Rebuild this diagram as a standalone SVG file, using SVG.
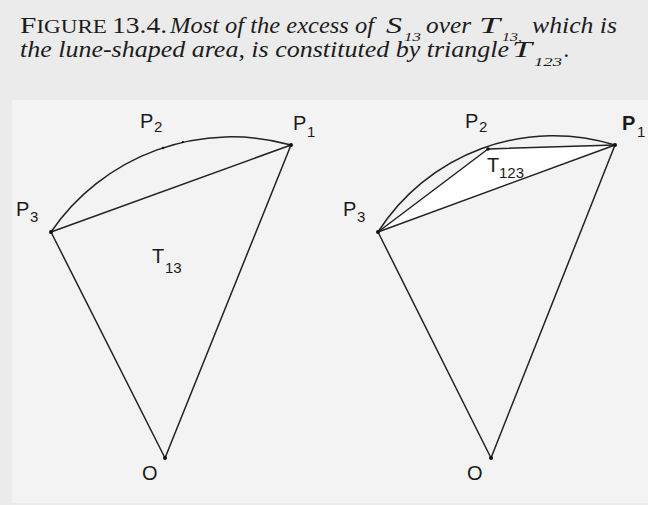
<svg xmlns="http://www.w3.org/2000/svg" width="648" height="505" viewBox="0 0 648 505">
<style>
.cap{font-family:"Liberation Serif",serif;fill:#1c1c1c}
.it{font-style:italic}
.lbl{font-family:"Liberation Sans",Arial,sans-serif;fill:#1a1a1a;font-size:20px}
.sub{font-family:"Liberation Sans",Arial,sans-serif;fill:#1a1a1a;font-size:15px}
.ln{fill:none;stroke:#222;stroke-width:1.5;stroke-linecap:round;stroke-linejoin:round}
.dot{fill:#111}
</style>
<rect x="0" y="0" width="648" height="505" fill="#ebebeb"/>
<rect x="12" y="100" width="636" height="403" fill="#f3f3f3"/>
<g id="caption">
<text class="cap" x="20" y="33" font-size="23" textLength="87" lengthAdjust="spacingAndGlyphs">F<tspan font-size="18">IGURE</tspan></text>
<text class="cap" x="112" y="33" font-size="23" textLength="55" lengthAdjust="spacingAndGlyphs">13.4.</text>
<text class="cap it" x="170" y="33" font-size="23" textLength="204" lengthAdjust="spacingAndGlyphs">Most of the excess of</text>
<text class="cap it" x="386" y="33" font-size="23" textLength="16" lengthAdjust="spacingAndGlyphs">S</text>
<text class="cap it" x="404" y="41" font-size="13" textLength="17" lengthAdjust="spacingAndGlyphs">13</text>
<text class="cap it" x="426" y="33" font-size="23" textLength="45" lengthAdjust="spacingAndGlyphs">over</text>
<text class="cap it" x="479" y="33" font-size="23" textLength="21" lengthAdjust="spacingAndGlyphs">T</text>
<text class="cap it" x="502" y="41" font-size="13" textLength="20" lengthAdjust="spacingAndGlyphs">13,</text>
<text class="cap it" x="532" y="33" font-size="23" textLength="85" lengthAdjust="spacingAndGlyphs">which is</text>
<text class="cap it" x="20" y="57" font-size="23" textLength="489" lengthAdjust="spacingAndGlyphs">the lune-shaped area, is constituted by triangle</text>
<text class="cap it" x="512" y="57" font-size="23" textLength="20" lengthAdjust="spacingAndGlyphs">T</text>
<text class="cap it" x="534" y="66" font-size="13" textLength="28" lengthAdjust="spacingAndGlyphs">123</text>
<text class="cap it" x="564" y="57" font-size="23">.</text>
</g>
<g id="left-figure">
<g id="connectors-left">
<path class="ln" d="M51,232 A219,219 0 0 1 291,145"/>
<path class="ln" d="M51,232 L291,145"/>
<path class="ln" d="M51,232 L165,458"/>
<path class="ln" d="M291,145 L165,458"/>
</g>
<g id="left-P1"><circle class="dot" cx="291" cy="145" r="2"/><text class="lbl" x="293" y="130">P</text><text class="sub" x="307" y="137">1</text></g>
<g id="left-P2"><circle class="dot" cx="163" cy="148" r="1.3"/><circle class="dot" cx="183" cy="142" r="1.1"/><text class="lbl" x="140" y="128">P</text><text class="sub" x="154" y="132">2</text></g>
<g id="left-P3"><circle class="dot" cx="51" cy="232" r="2"/><text class="lbl" x="16" y="216">P</text><text class="sub" x="30" y="222">3</text></g>
<g id="left-T13"><text class="lbl" x="152" y="263">T</text><text class="sub" x="165" y="273">13</text></g>
<g id="left-O"><circle class="dot" cx="165" cy="458" r="2"/><text class="lbl" x="142" y="480" font-size="22">O</text></g>
</g>
<g id="right-figure">
<path d="M378,232 L488,149 L615,145 Z" fill="#ffffff"/>
<g id="connectors-right">
<path class="ln" d="M378,232 A208,208 0 0 1 615,145"/>
<path class="ln" d="M378,232 L488,149"/>
<path class="ln" d="M488,149 L615,145"/>
<path class="ln" d="M378,232 L615,145"/>
<path class="ln" d="M378,232 L491,458"/>
<path class="ln" d="M615,145 L491,458"/>
</g>
<g id="right-P1"><circle class="dot" cx="615" cy="145" r="2"/><text class="lbl" x="622" y="130" font-weight="bold">P</text><text class="sub" x="637" y="137">1</text></g>
<g id="right-P2"><circle class="dot" cx="488" cy="149" r="1.8"/><text class="lbl" x="465" y="128">P</text><text class="sub" x="479" y="132">2</text></g>
<g id="right-P3"><circle class="dot" cx="378" cy="232" r="2"/><text class="lbl" x="343" y="216">P</text><text class="sub" x="357" y="222">3</text></g>
<g id="right-T123"><text class="lbl" x="487" y="172">T</text><text class="sub" x="499" y="178" font-size="13">123</text></g>
<g id="right-O"><circle class="dot" cx="491" cy="458" r="2"/><text class="lbl" x="467" y="480" font-size="22">O</text></g>
</g>
</svg>
